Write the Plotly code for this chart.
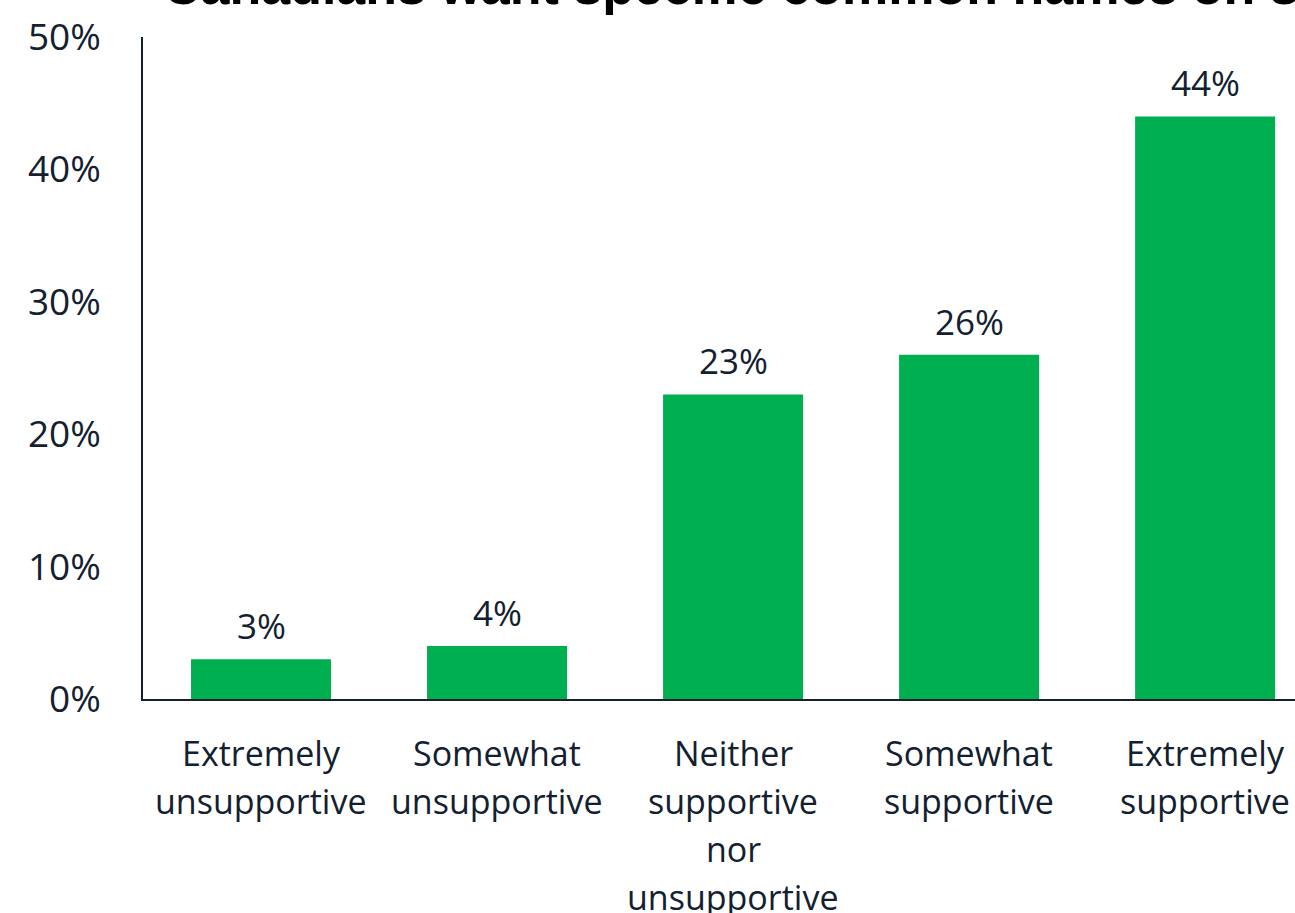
import plotly.graph_objects as go

# Survey responses
categories = [
    "Extremely unsupportive",
    "Somewhat unsupportive",
    "Neither supportive nor unsupportive",
    "Somewhat supportive",
    "Extremely supportive",
]
category_lines = [
    ["Extremely", "unsupportive"],
    ["Somewhat", "unsupportive"],
    ["Neither", "supportive", "nor", "unsupportive"],
    ["Somewhat", "supportive"],
    ["Extremely", "supportive"],
]
shares = [3, 4, 23, 26, 44]
y_ticks = [0, 10, 20, 30, 40, 50]
y_tick_labels = ["0%", "10%", "20%", "30%", "40%", "50%"]
title_text = "Canadians want specific common names on seafood labels"

INK = "#13202f"
GREEN = "#00B050"
FONT = "Open Sans"
LABEL_SIZE = 34
LINE_STEP = 48      # px between category label lines
FIRST_LINE = 54     # px from the x axis down to the middle of the first line

positions = list(range(len(categories)))

fig = go.Figure(
    go.Bar(
        x=positions,
        y=shares,
        marker=dict(color=GREEN, line=dict(width=0)),
        width=0.593,
        hovertext=categories,
        hoverinfo="text+y",
    )
)

# value labels above each bar
for xi, v in zip(positions, shares):
    fig.add_annotation(
        x=xi, y=v, xref="x", yref="y",
        text=f"{v}%", showarrow=False,
        yanchor="bottom", yshift=8,
        font=dict(family=FONT, size=35, color=INK),
    )

# category labels, one annotation per line for even line spacing
for xi, lines in zip(positions, category_lines):
    for k, line in enumerate(lines):
        fig.add_annotation(
            x=xi, y=0, xref="x", yref="paper",
            text=line, showarrow=False,
            xanchor="center", yanchor="middle",
            yshift=-(FIRST_LINE + k * LINE_STEP),
            font=dict(family=FONT, size=LABEL_SIZE, color=INK),
        )

# chart title
fig.add_annotation(
    x=0.0, y=1.0, xref="paper", yref="paper",
    text=f"<b>{title_text}</b>", showarrow=False,
    xanchor="left", yanchor="bottom", xshift=18, yshift=20,
    font=dict(family="Liberation Sans", size=52, color="#000000"),
)

fig.update_layout(
    width=1295,
    height=913,
    margin=dict(l=143, r=0, t=37, b=214),
    paper_bgcolor="white",
    plot_bgcolor="white",
    showlegend=False,
    font=dict(family=FONT, color=INK),
)

fig.update_xaxes(
    range=[-0.5, 4.381],
    showticklabels=False,
    showgrid=False,
    zeroline=False,
    showline=True,
    linecolor=INK,
    linewidth=2,
    ticks="",
    fixedrange=True,
)

fig.update_yaxes(
    range=[0, 50],
    tickmode="array",
    tickvals=y_ticks,
    ticktext=y_tick_labels,
    showgrid=False,
    zeroline=False,
    showline=True,
    linecolor=INK,
    linewidth=1.5,
    ticks="",
    ticklabelstandoff=33,
    tickfont=dict(family=FONT, size=37, color=INK),
    fixedrange=True,
)

fig.write_html("out.html")
